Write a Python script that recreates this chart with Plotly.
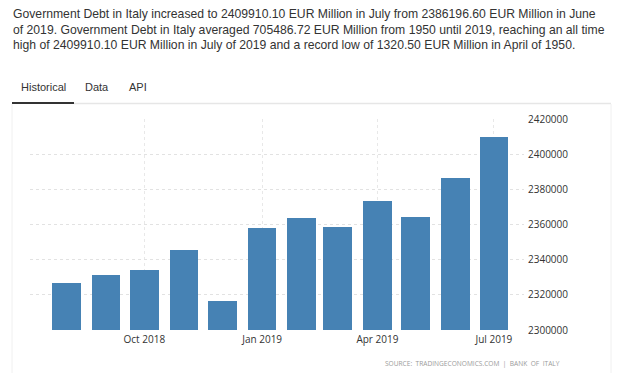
import plotly.graph_objects as go

# ---- data ----
months = ["2018-08-01", "2018-09-01", "2018-10-01", "2018-11-01", "2018-12-01", "2019-01-01",
          "2019-02-01", "2019-03-01", "2019-04-01", "2019-05-01", "2019-06-01", "2019-07-01"]
debt = [2326600, 2331300, 2334300, 2345300, 2316500, 2357900,
        2363700, 2358500, 2373100, 2364300, 2386196.6, 2409910.1]
tick_dates = ["2018-10-01", "2019-01-01", "2019-04-01", "2019-07-01"]
tick_labels = ["Oct 2018", "Jan 2019", "Apr 2019", "Jul 2019"]
y_ticks = [2300000, 2320000, 2340000, 2360000, 2380000, 2400000, 2420000]

intro_lines = [
    "Government Debt in Italy increased to 2409910.10 EUR Million in July from 2386196.60 EUR Million in June",
    "of 2019. Government Debt in Italy averaged 705486.72 EUR Million from 1950 until 2019, reaching an all time",
    "high of 2409910.10 EUR Million in July of 2019 and a record low of 1320.50 EUR Million in April of 1950.",
]
tabs = ["Historical", "Data", "API"]
source_text = "SOURCE:  TRADINGECONOMICS.COM  |  BANK  OF  ITALY"

# ---- layout geometry (pixels) ----
W, H = 617, 373
L, R, T, B = 30, 524, 119, 330
PW, PH = R - L, B - T


def px(x):
    return (x - L) / PW


def py(y):
    return (B - y) / PH


fig = go.Figure()
fig.add_trace(go.Bar(
    x=months, y=debt,
    width=22.4 * 86400000,
    marker=dict(color="#4682b4", line=dict(width=0)),
    hoverinfo="x+y",
))

annotations = []
for i, line in enumerate(intro_lines):
    annotations.append(dict(
        text=line, xref="paper", yref="paper", x=px(11), y=py([14, 30, 45][i]),
        xanchor="left", yanchor="middle", showarrow=False,
        font=dict(family="Liberation Sans, Arial", size=12.2, color="#333333"),
    ))
for name, x0 in zip(tabs, [20, 84, 128]):
    annotations.append(dict(
        text=name, xref="paper", yref="paper", x=px(x0 - 1), y=py(87),
        xanchor="left", yanchor="middle", showarrow=False,
        font=dict(family="Liberation Sans, Arial", size=11, color="#333333"),
    ))
annotations.append(dict(
    text=source_text, xref="paper", yref="paper", x=px(562), y=py(363),
    xanchor="right", yanchor="middle", showarrow=False,
    font=dict(family="Open Sans", size=6.6, color="#9a9a9a"),
))

shapes = [
    # tab strip line
    dict(type="line", xref="paper", yref="paper", x0=px(74), x1=px(611), y0=py(103.5), y1=py(103.5),
         line=dict(color="#e6e6e6", width=1.5)),
    dict(type="line", xref="paper", yref="paper", x0=px(12), x1=px(74), y0=py(103), y1=py(103),
         line=dict(color="#333333", width=2)),
    # chart box sides
    dict(type="line", xref="paper", yref="paper", x0=px(12), x1=px(12), y0=py(104), y1=py(380),
         line=dict(color="#f0f0f0", width=1)),
    dict(type="line", xref="paper", yref="paper", x0=px(611), x1=px(611), y0=py(104), y1=py(380),
         line=dict(color="#f0f0f0", width=1)),
]

fig.update_layout(
    width=W, height=H,
    margin=dict(l=L, r=W - R, t=T, b=H - B, pad=0, autoexpand=False),
    paper_bgcolor="white", plot_bgcolor="white",
    showlegend=False,
    bargap=0,
    annotations=annotations,
    shapes=shapes,
    xaxis=dict(
        type="date",
        range=["2018-07-03 17:00", "2019-07-24 12:00"],
        tickmode="array", tickvals=tick_dates, ticktext=tick_labels,
        showgrid=True, gridcolor="#e8e8e8", griddash="dot", gridwidth=1,
        zeroline=False, showline=False, ticks="",
        ticklabelstandoff=2,
        tickfont=dict(family="Open Sans", size=10, color="#333333"),
        fixedrange=True,
    ),
    yaxis=dict(
        side="right",
        range=[2300000, 2420000],
        tickmode="array", tickvals=y_ticks, ticktext=[str(v) for v in y_ticks],
        showgrid=True, gridcolor="#e2e2e2", griddash="dot", gridwidth=1,
        zeroline=False, showline=False, ticks="",
        ticklabelstandoff=3,
        tickfont=dict(family="Open Sans", size=10, color="#333333"),
        automargin=False,
        fixedrange=True,
    ),
)

fig.write_html("out.html", config={"displayModeBar": False},
               post_script="document.body.style.margin='0';document.body.style.overflow='hidden';")
